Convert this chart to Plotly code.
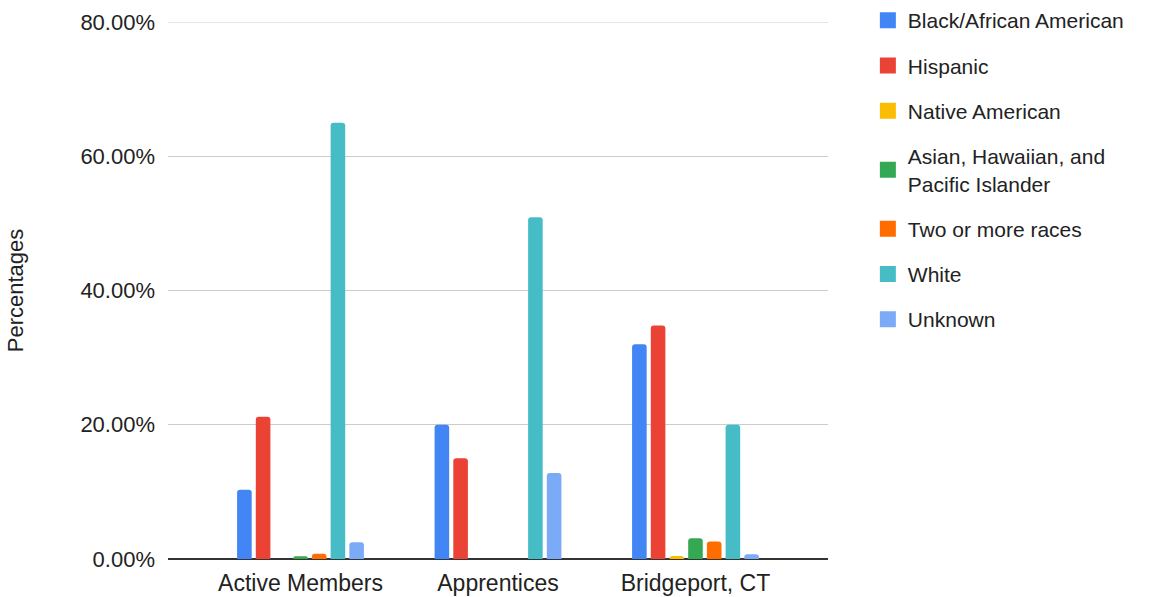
import plotly.graph_objects as go

categories = ["Active Members", "Apprentices", "Bridgeport, CT"]

black_african_american = [10.3, 20.0, 32.0]
hispanic = [21.2, 15.0, 34.8]
native_american = [0.0, 0.0, 0.45]
asian_hawaiian_pacific = [0.4, 0.0, 3.1]
two_or_more = [0.8, 0.0, 2.6]
white = [65.0, 50.9, 20.0]
unknown = [2.5, 12.8, 0.7]

y_ticks = [0, 20, 40, 60, 80]

series = [
    ("Black/African American", black_african_american, "#4285F4"),
    ("Hispanic", hispanic, "#EA4335"),
    ("Native American", native_american, "#FBBC04"),
    ("Asian, Hawaiian, and<br>Pacific Islander", asian_hawaiian_pacific, "#34A853"),
    ("Two or more races", two_or_more, "#FF6D01"),
    ("White", white, "#46BDC6"),
    ("Unknown", unknown, "#7BAAF7"),
]

FONT = "Liberation Sans, Arial, sans-serif"
TXT = "#222222"

fig = go.Figure()
for i, (name, vals, color) in enumerate(series):
    fig.add_trace(go.Bar(
        x=categories, y=vals, name=name,
        marker=dict(color=color, line=dict(width=0)),
        showlegend=False,
    ))
# legend entries with larger square swatches
for i, (name, vals, color) in enumerate(series):
    fig.add_trace(go.Scatter(
        x=[None], y=[None], mode="markers", name=name,
        marker=dict(symbol="square", size=20, color=color),
        legendgroup=f"g{i}", hoverinfo="skip",
    ))

# top gridline at the axis maximum
fig.add_hline(y=y_ticks[-1], line=dict(color="#cccccc", width=1), layer="below")

fig.update_layout(
    width=1172, height=597,
    margin=dict(l=168, r=344, t=22, b=38, autoexpand=False),
    paper_bgcolor="white", plot_bgcolor="white",
    barmode="group", bargap=0.337, bargroupgap=0.22,
    barcornerradius=3,
    font=dict(family=FONT, size=22, color=TXT),
    legend=dict(
        xref="container", yref="container",
        x=0.7405, xanchor="left", y=1.008, yanchor="top",
        font=dict(family=FONT, size=21, color=TXT),
        tracegroupgap=15, itemwidth=30, maxheight=590,
    ),
    xaxis=dict(
        range=[-0.671, 2.671], showgrid=False, showline=False,
        ticks="", tickfont=dict(size=23, color=TXT),
        automargin=False, ticklabelstandoff=8,
    ),
    yaxis=dict(
        range=[0, 80], tickvals=y_ticks,
        ticktext=[f"{v:.2f}%" for v in y_ticks],
        showgrid=True, gridcolor="#cccccc", gridwidth=1,
        zeroline=True, zerolinecolor="#333333", zerolinewidth=1.5,
        showline=False, ticks="", ticklabelstandoff=12,
        tickfont=dict(size=22, color=TXT), automargin=False,
        title=dict(text="Percentages", font=dict(size=22, color=TXT), standoff=50),
    ),
)

fig.write_html("out.html")
